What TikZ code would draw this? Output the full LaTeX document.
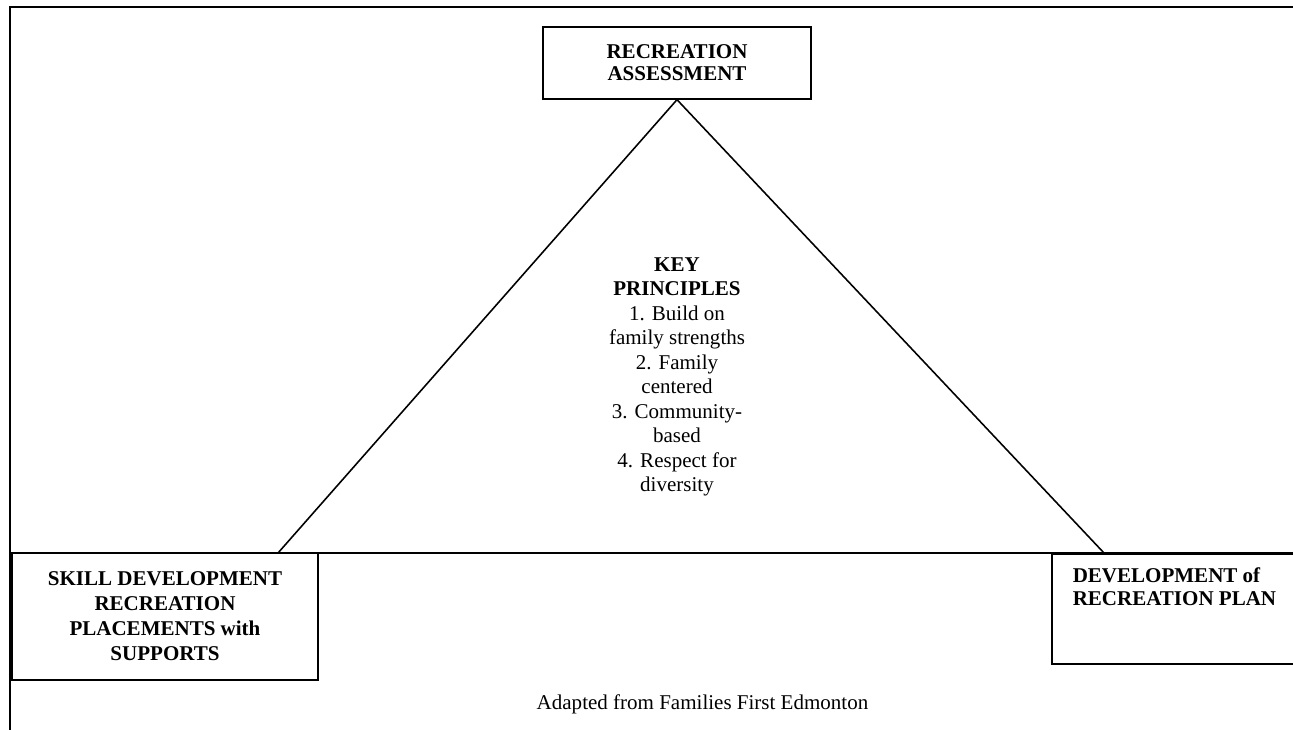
\documentclass[tikz,border=0pt]{standalone}
\usepackage{fontspec}
\setmainfont{Liberation Serif}
\begin{document}
\begin{tikzpicture}[x=0.571pt, y=-0.571pt, line width=0.9pt,
    stagebox/.style={draw, align=center, inner sep=0pt,
      font=\bfseries\fontsize{12}{14.3}\selectfont}]
        \useasboundingbox (0,0) rectangle (1293,730);

        % frame
        \draw (1293,7) -- (10,7) -- (10,730);
        \draw (10,553) -- (1293,553);

        % stages
        \node (assess) [stagebox, minimum width=153pt, minimum height=41pt,
          font=\bfseries\fontsize{12}{12.6}\selectfont] at (677,63)
          {RECREATION\\ASSESSMENT};
        \node (skill) [stagebox, minimum width=174.7pt, minimum height=72.5pt]
          at (165,616.5) {SKILL DEVELOPMENT\\RECREATION\\PLACEMENTS with\\SUPPORTS};
        \node (plan) [draw, minimum width=150pt, minimum height=62.8pt,
          anchor=north west, inner sep=0pt] at (1051,553) {};
        \node (plantext) [anchor=north west, align=left, inner sep=0pt,
          font=\bfseries\fontsize{12}{13.3}\selectfont] at (1072,567)
          {DEVELOPMENT of\\RECREATION PLAN};

        % triangle
        \coordinate (footL) at (278,553);
        \coordinate (footR) at (1104,553);
        \draw (footL) -- (assess.south) -- (footR);

        % principles
        \node (keys) [align=center, inner sep=0pt,
          font=\fontsize{12}{14}\selectfont] at (677,377)
          {\textbf{KEY}\\\textbf{PRINCIPLES}\\1. Build on\\family strengths\\2. Family\\centered\\
           3. Community-\\based\\4. Respect for\\diversity};

        % source
        \node (source) [inner sep=0pt, font=\fontsize{12}{14}\selectfont]
          at (702.5,704) {Adapted from Families First Edmonton};
    \end{tikzpicture}
\end{document}
